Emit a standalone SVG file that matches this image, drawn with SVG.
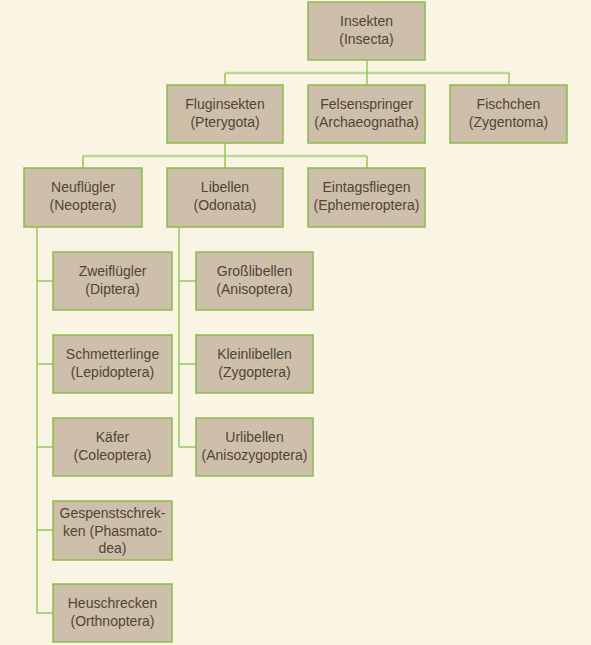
<svg xmlns="http://www.w3.org/2000/svg" width="591" height="645" viewBox="0 0 591 645">
<style>
.bg{fill:#FAF4E5}
.box{fill:#CEBFAA;stroke:#8CBB48;stroke-width:1.5}
.t{font-family:"Liberation Sans",Arial,sans-serif;font-size:14px;fill:#4F4535;text-anchor:middle}
.h{stroke:#BCDA8C;stroke-width:2.5;fill:none}
.v{stroke:#98C65A;stroke-width:1.5;fill:none}
</style>
<rect class="bg" x="0" y="0" width="591" height="645"/>
<g id="connectors">
<path class="h" d="M225,73H509"/>
<path class="v" d="M367,60V85M225,73V85M509,73V85"/>
<path class="h" d="M83,156H367"/>
<path class="v" d="M225,143V168M83,156V168M367,156V168"/>
<path class="v" d="M37,227V614M37,281H53M37,364H53M37,447H53M37,530H53M37,613H53"/>
<path class="v" d="M179,227V447M179,281H196M179,364H196M179,447H196"/>
</g>
<g id="insekten"><rect class="box" x="308" y="2" width="117" height="58"/><text class="t" x="366.5" y="26">Insekten</text><text class="t" x="366.5" y="44">(Insecta)</text></g>
<g id="fluginsekten"><rect class="box" x="167" y="85" width="116" height="58"/><text class="t" x="225" y="109">Fluginsekten</text><text class="t" x="225" y="127">(Pterygota)</text></g>
<g id="felsenspringer"><rect class="box" x="308" y="85" width="117" height="58"/><text class="t" x="366.5" y="109">Felsenspringer</text><text class="t" x="366.5" y="127">(Archaeognatha)</text></g>
<g id="fischchen"><rect class="box" x="450" y="85" width="117" height="58"/><text class="t" x="508.5" y="109">Fischchen</text><text class="t" x="508.5" y="127">(Zygentoma)</text></g>
<g id="neufluegler"><rect class="box" x="24" y="168" width="118" height="59"/><text class="t" x="83" y="192">Neuflügler</text><text class="t" x="83" y="210">(Neoptera)</text></g>
<g id="libellen"><rect class="box" x="167" y="168" width="116" height="59"/><text class="t" x="225" y="192">Libellen</text><text class="t" x="225" y="210">(Odonata)</text></g>
<g id="eintagsfliegen"><rect class="box" x="308" y="168" width="117" height="59"/><text class="t" x="366.5" y="192">Eintagsfliegen</text><text class="t" x="366.5" y="210">(Ephemeroptera)</text></g>
<g id="zweifluegler"><rect class="box" x="53" y="252" width="119" height="58"/><text class="t" x="112.5" y="276">Zweiflügler</text><text class="t" x="112.5" y="294">(Diptera)</text></g>
<g id="schmetterlinge"><rect class="box" x="53" y="335" width="119" height="58"/><text class="t" x="112.5" y="359">Schmetterlinge</text><text class="t" x="112.5" y="377">(Lepidoptera)</text></g>
<g id="kaefer"><rect class="box" x="53" y="418" width="119" height="58"/><text class="t" x="112.5" y="442">Käfer</text><text class="t" x="112.5" y="460">(Coleoptera)</text></g>
<g id="gespenstschrecken"><rect class="box" x="53" y="501" width="119" height="59"/><text class="t" x="112.5" y="518">Gespenstschrek-</text><text class="t" x="112.5" y="536">ken (Phasmato-</text><text class="t" x="112.5" y="553">dea)</text></g>
<g id="heuschrecken"><rect class="box" x="53" y="584" width="119" height="58"/><text class="t" x="112.5" y="608">Heuschrecken</text><text class="t" x="112.5" y="626">(Orthnoptera)</text></g>
<g id="grosslibellen"><rect class="box" x="196" y="252" width="117" height="58"/><text class="t" x="254.5" y="276">Großlibellen</text><text class="t" x="254.5" y="294">(Anisoptera)</text></g>
<g id="kleinlibellen"><rect class="box" x="196" y="335" width="117" height="58"/><text class="t" x="254.5" y="359">Kleinlibellen</text><text class="t" x="254.5" y="377">(Zygoptera)</text></g>
<g id="urlibellen"><rect class="box" x="196" y="418" width="117" height="58"/><text class="t" x="254.5" y="442">Urlibellen</text><text class="t" x="254.5" y="460">(Anisozygoptera)</text></g>
</svg>
